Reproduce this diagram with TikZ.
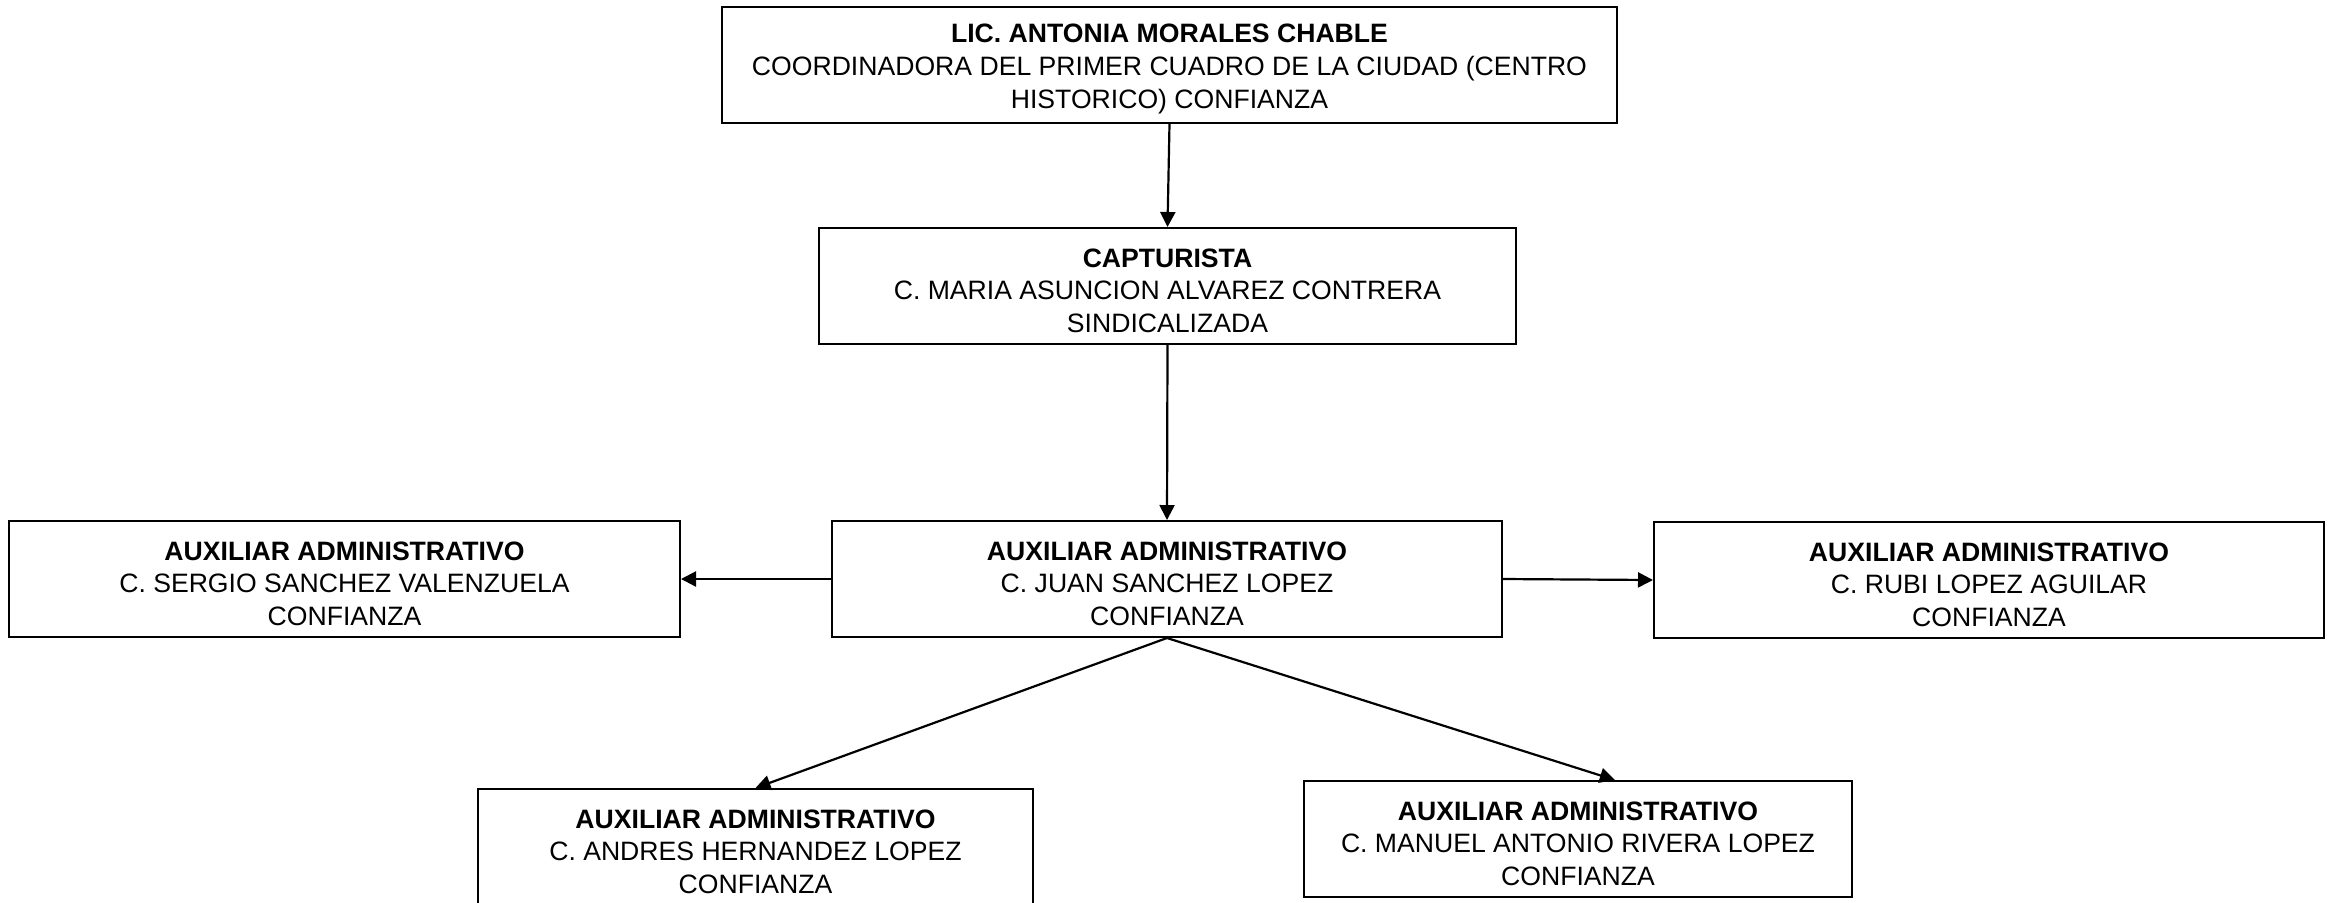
\documentclass[tikz,border=0pt]{standalone}
\usepackage{fontspec}
\setmainfont{Liberation Sans}
\usetikzlibrary{arrows.meta,calc}
\newcommand{\firstline}{\rule{0pt}{14pt}}
\begin{document}
\begin{tikzpicture}[x=0.5pt,y=-0.5pt,
  box/.style={draw=black,line width=1pt,rectangle,inner sep=0pt,align=center,
    font=\fontsize{13.3}{16.4}\selectfont,minimum height=58pt},
  conn/.style={line width=1.1pt,-{Triangle[length=7.5pt,width=7.5pt]}}]
\useasboundingbox (0,0) rectangle (2335,902);
\node[box,minimum width=447.5pt] (top) at (1169.5,64.5)
  {\firstline\textbf{LIC. ANTONIA MORALES CHABLE}\\COORDINADORA DEL PRIMER CUADRO DE LA CIUDAD (CENTRO\\HISTORICO) CONFIANZA};
\node[box,minimum width=348.5pt] (cap) at (1167.5,286)
  {\firstline\textbf{CAPTURISTA}\\C. MARIA ASUNCION ALVAREZ CONTRERA\\SINDICALIZADA};
\node[box,minimum width=335pt] (c) at (1167,579)
  {\firstline\textbf{AUXILIAR ADMINISTRATIVO}\\C. JUAN SANCHEZ LOPEZ\\CONFIANZA};
\node[box,minimum width=335.5pt] (l) at (344.5,579)
  {\firstline\textbf{AUXILIAR ADMINISTRATIVO}\\C. SERGIO SANCHEZ VALENZUELA\\CONFIANZA};
\node[box,minimum width=335pt] (r) at (1989,580)
  {\firstline\textbf{AUXILIAR ADMINISTRATIVO}\\C. RUBI LOPEZ AGUILAR\\CONFIANZA};
\node[box,minimum width=277.5pt] (bl) at (755.5,847)
  {\firstline\textbf{AUXILIAR ADMINISTRATIVO}\\C. ANDRES HERNANDEZ LOPEZ\\CONFIANZA};
\node[box,minimum width=274pt] (br) at (1578,839)
  {\firstline\textbf{AUXILIAR ADMINISTRATIVO}\\C. MANUEL ANTONIO RIVERA LOPEZ\\CONFIANZA};
\draw[conn] (top.south) -- (cap.north);
\draw[conn] (cap.south) -- (c.north);
\draw[conn] (c.west) -- (l.west -| l.east);
\draw[conn] (c.east) -- (r.west);
\draw[conn] (c.south) -- (bl.north);
\draw[conn] (c.south) -- ($(br.north west)!0.567!(br.north east)$);
\end{tikzpicture}
\end{document}
